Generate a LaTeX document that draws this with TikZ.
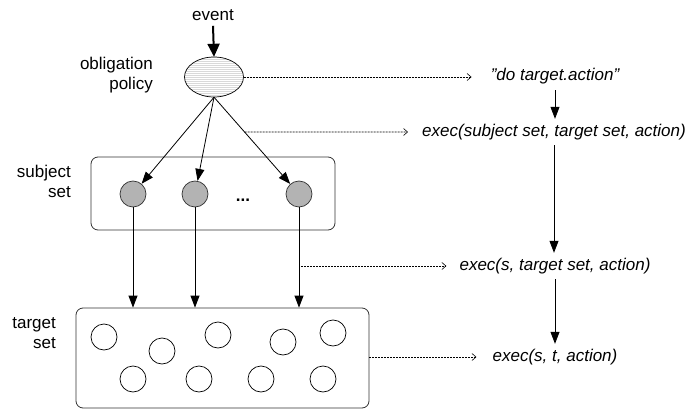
\documentclass[tikz,border=0pt]{standalone}
\usepackage{fontspec}
\setmainfont{Liberation Sans}
\usetikzlibrary{arrows.meta,shapes.geometric,patterns.meta,calc}
\definecolor{member}{HTML}{B3B3B3}
\definecolor{frame}{HTML}{333333}
\begin{document}
\begin{tikzpicture}[x=1pt,y=-1pt,
  font=\fontsize{17}{20}\selectfont,
  lbl/.style={align=right,anchor=east,inner sep=0pt},
  stmt/.style={font=\fontsize{17}{20}\selectfont\itshape,text height=12pt,text depth=4pt,inner xsep=0pt,inner ysep=5pt},
  setbox/.style={draw=frame,line width=0.8pt,rounded corners=7pt,inner sep=0pt},
  subj/.style={circle,draw=frame,fill=member,line width=0.7pt,minimum size=26pt,inner sep=0pt},
  targ/.style={circle,draw=black,line width=0.7pt,minimum size=26pt,inner sep=0pt},
  flow/.style={-{Triangle[length=12pt,width=9pt]},line width=0.8pt},
  derive/.style={-{Straight Barb[length=4pt,width=7pt]},line width=0.6pt,dash pattern=on 2pt off 1pt},
]
\useasboundingbox (0,0) rectangle (688,409);

% obligation policy and its triggering event
\node[inner sep=0pt] (event) at (213,15) {event};
\node[ellipse,draw=black,line width=0.7pt,minimum width=59pt,minimum height=40pt,inner sep=0pt,
      preaction={fill=white},
      pattern={Lines[angle=0,distance=2pt,line width=0.4pt]},pattern color=gray!30] (pol) at (214,77) {};
\node[lbl] (pollbl) at (153,75) {obligation\\policy};
\draw[-{Triangle[length=13pt,width=12pt]},line width=2pt] ([yshift=-5pt]event.south) -- (pol.north);

% subject set
\node[setbox,minimum width=244pt,minimum height=73pt] (sset) at (213,193.5) {};
\node[lbl] (ssetlbl) at (71,181.5) {subject\\set};
\node[subj] (s1) at (133,194) {};
\node[subj] (s2) at (195,194) {};
\node[subj] (s3) at (299,194) {};
\node[anchor=base,inner sep=0pt] (dots) at (243,201) {\textbf{...}};

% target set
\node[setbox,minimum width=293pt,minimum height=100pt] (tset) at (222.5,358) {};
\node[lbl] (tsetlbl) at (56,333) {target\\set};
\node[targ] (t1) at (104,337) {};
\node[targ] (t2) at (162,351) {};
\node[targ] (t3) at (218,335) {};
\node[targ] (t4) at (283,342) {};
\node[targ] (t5) at (333,333) {};
\node[targ] (t6) at (133,379) {};
\node[targ] (t7) at (199,379) {};
\node[targ] (t8) at (261,379) {};
\node[targ] (t9) at (323,379) {};

% policy to subjects, subjects to target set
\draw[flow] (pol.south) -- (s1);
\draw[flow] (pol.south) -- (s2);
\draw[flow] (pol.south) -- (s3);
\draw[flow] (s1.south) -- (s1 |- tset.north);
\draw[flow] (s2.south) -- (s2 |- tset.north);
\draw[flow] (s3.south) -- (s3 |- tset.north);

% refinement of the action
\node[stmt] (do)  at (555,77)  {\symbol{34}do target.action\symbol{34}};
\node[stmt] (ex1) at (554,132) {exec(subject set, target set, action)};
\node[stmt] (ex2) at (555,266) {exec(s, target set, action)};
\node[stmt] (ex3) at (555,357) {exec(s, t, action)};
\draw[flow] (do.south)  -- (do.south |- ex1.north);
\draw[flow] (ex1.south) -- (ex1.south |- ex2.north);
\draw[flow] (ex2.south) -- (ex2.south |- ex3.north);

% dashed correspondences
\coordinate (k1) at (intersection of pol.south--s3.center and ex1.west--ex1.east);
\coordinate (k2) at ([xshift=2pt]s3.center |- ex2.west);
\coordinate (k3) at (tset.east |- ex3.west);
\coordinate (d0) at ([xshift=-19pt]do.west);
\coordinate (d1) at ([xshift=-14pt]ex1.west);
\coordinate (d2) at ([xshift=-13pt]ex2.west);
\coordinate (d3) at ([xshift=-16pt]ex3.west);
\draw[derive] (pol.east) -- (d0);
\draw[derive] (k1) -- (d1);
\draw[derive] (k2) -- (d2);
\draw[derive] (k3) -- (d3);
\end{tikzpicture}
\end{document}
